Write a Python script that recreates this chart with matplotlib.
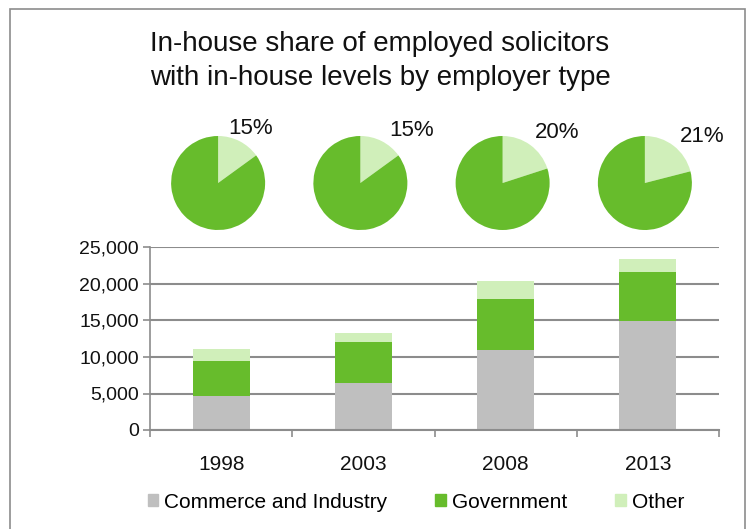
import matplotlib.pyplot as plt
from matplotlib.patches import Rectangle, Patch

plt.rcParams['font.family'] = ['Liberation Sans', 'DejaVu Sans']

years = ['1998', '2003', '2008', '2013']
commerce = [4700, 6500, 11000, 14900]
government = [4700, 5550, 6950, 6800]
other = [1650, 1250, 2500, 1700]
inhouse_share = [15, 15, 20, 21]

grey = '#bfbfbf'
green = '#67bc2c'
light = '#d0efba'

W, H = 747, 529
fig = plt.figure(figsize=(W / 100, H / 100), dpi=100)

# outer frame of the chart area
fig.patches.append(Rectangle((10 / W, -0.1), 735 / W, 1.1 - 9 / H, transform=fig.transFigure,
                             fill=False, edgecolor='#8c8c8c', linewidth=1.2))

fig.text(380 / W, 1 - 61 / H, 'In-house share of employed solicitors\nwith in-house levels by employer type',
         ha='center', va='center', fontsize=20, linespacing=1.36, color='#111111')

ax = fig.add_axes([150 / W, 1 - 430 / H, 569 / W, 182.5 / H])
x = list(range(len(years)))
bottom2 = [c + g for c, g in zip(commerce, government)]
ax.bar(x, commerce, width=0.4, color=grey, label='Commerce and Industry', zorder=2)
ax.bar(x, government, width=0.4, bottom=commerce, color=green, label='Government', zorder=2)
ax.bar(x, other, width=0.4, bottom=bottom2, color=light, label='Other', zorder=2)

ax.set_xlim(-0.5, len(years) - 0.5)
ax.set_ylim(0, 25000)
ax.set_yticks(range(0, 25001, 5000))
ax.set_yticklabels([f'{v:,}' for v in range(0, 25001, 5000)])
ax.set_xticks(x)
ax.set_xticklabels(years)
ax.set_xticks([i - 0.5 for i in range(len(years) + 1)], minor=True)
ax.tick_params(axis='x', which='major', length=0, pad=18, labelsize=15, colors='#111111')
ax.tick_params(axis='x', which='minor', length=5, width=1.2, color='#8c8c8c', direction='out')
ax.tick_params(axis='y', length=5, width=1.2, color='#8c8c8c', pad=3, labelsize=14, labelcolor='#111111')
ax.grid(axis='y', color='#8c8c8c', linewidth=1.5, zorder=0)
for s in ['top', 'right']:
    ax.spines[s].set_visible(False)
ax.spines['left'].set_color('#8c8c8c')
ax.spines['bottom'].set_color('#8c8c8c')
ax.spines['left'].set_linewidth(1.2)
ax.spines['bottom'].set_linewidth(1.5)

# small pies above each bar
label_off = [(32, 54), (51, 52), (55, 51), (57, 47)]
r = 47
for i, share in enumerate(inhouse_share):
    px, _ = ax.transData.transform((x[i], 0))
    cx = px - 3
    cy = H - 183
    pax = fig.add_axes([(cx - r) / W, (cy - r) / H, 2 * r / W, 2 * r / H])
    pax.pie([share, 100 - share], colors=[light, green], startangle=90, counterclock=False,
            radius=1, wedgeprops={'linewidth': 0})
    pax.set_xlim(-1, 1)
    pax.set_ylim(-1, 1)
    pax.set_aspect('equal')
    pax.axis('off')
    dx, dy = label_off[i]
    fig.text((cx + dx) / W, (cy + dy) / H, f'{share}%', ha='center', va='center',
             fontsize=16, color='#111111')

handles = [Patch(color=grey, label='Commerce and Industry'),
           Patch(color=green, label='Government'),
           Patch(color=light, label='Other')]
fig.legend(handles=handles, loc='center', bbox_to_anchor=(416 / W, 1 - 502 / H), ncol=3,
           frameon=False, fontsize=15, handlelength=0.5, handleheight=0.5,
           handletextpad=0.3, columnspacing=2.3, borderaxespad=0)

fig.savefig('out.png', dpi=100)
